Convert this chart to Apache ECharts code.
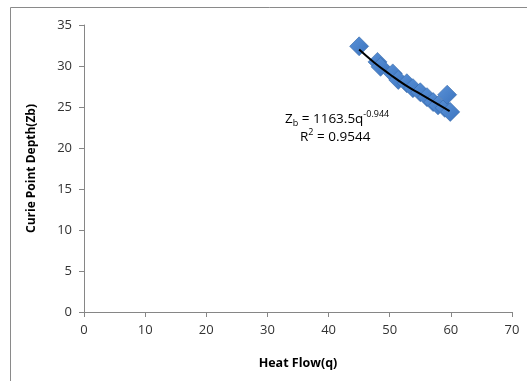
<!DOCTYPE html>
<html>
<head>
<meta charset="utf-8">
<script src="https://cdn.jsdelivr.net/npm/echarts@6/dist/echarts.min.js"></script>
<style>
    html, body { margin: 0; padding: 0; background: #fff; }
    #chart { width: 527px; height: 381px; }
</style>
</head>
<body>
<div id="chart"></div>
<script>
// heat flow (q) vs curie point depth (Zb)
const heatFlow = [45, 48, 48.5, 50.5, 51.4, 52.8, 53.8, 55, 56.1, 57.1, 57.9, 59, 59.4, 59.9];
const curieDepth = [32.4, 30.5, 29.9, 29.1, 28.3, 27.9, 27.3, 26.8, 26.2, 25.6, 25.2, 24.9, 26.5, 24.4];
// power trendline points as drawn
const trendQ = [45, 47.5, 50, 52.5, 55, 57.5, 59.8];
const trendZb = [32.0, 30.4, 29.0, 27.7, 26.6, 25.5, 24.5];
const xTicks = [0, 10, 20, 30, 40, 50, 60, 70];
const yTicks = [0, 5, 10, 15, 20, 25, 30, 35];

const chart = echarts.init(document.getElementById("chart"));
const font = "'Open Sans', 'DejaVu Sans', sans-serif";
const axisGray = "#868686";

const option = {
    backgroundColor: "#fff",
    animation: false,
    grid: { left: 84, right: 15, top: 25, bottom: 69, containLabel: false },
    xAxis: {
        type: "value",
        min: xTicks[0],
        max: xTicks[xTicks.length - 1],
        interval: 10,
        name: "Heat Flow(q)",
        nameLocation: "middle",
        nameGap: 45,
        nameTextStyle: { fontFamily: font, fontWeight: "bold", fontSize: 12.5, color: "#000" },
        axisLine: { lineStyle: { color: axisGray, width: 1 } },
        axisTick: { show: true, inside: false, length: 5, lineStyle: { color: axisGray } },
        axisLabel: { fontFamily: font, fontSize: 13, color: "#333", margin: 12 },
        splitLine: { show: false },
    },
    yAxis: {
        type: "value",
        min: yTicks[0],
        max: yTicks[yTicks.length - 1],
        interval: 5,
        name: "Curie Point Depth(Zb)",
        nameLocation: "middle",
        nameGap: 46,
        nameRotate: 90,
        nameTextStyle: { fontFamily: font, fontWeight: "bold", fontSize: 12, color: "#000" },
        axisLine: { show: true, lineStyle: { color: axisGray, width: 1 } },
        axisTick: { show: true, inside: false, length: 5, lineStyle: { color: axisGray } },
        axisLabel: { fontFamily: font, fontSize: 13, color: "#333", margin: 12 },
        splitLine: { show: false },
    },
    graphic: [
        {
            type: "rect",
            shape: { x: 10.5, y: 7.5, width: 600, height: 500 },
            style: { fill: "none", stroke: "#8a8a8a", lineWidth: 1 },
            silent: true,
            z: -1,
        },
        {
            type: "text",
            left: 285,
            top: 110,
            style: {
                text: "{a|Z}{sub|b}{a| = 1163.5q}{sup|-0.944}",
                rich: {
                    a: { fontFamily: font, fontSize: 13.5, color: "#000", lineHeight: 18 },
                    sub: { fontFamily: font, fontSize: 9, color: "#000", verticalAlign: "bottom", lineHeight: 18, padding: [6, 0, 0, 0] },
                    sup: { fontFamily: font, fontSize: 9, color: "#000", verticalAlign: "top", lineHeight: 18, padding: [0, 0, 8, 0] },
                },
            },
        },
        {
            type: "text",
            left: 300,
            top: 128,
            style: {
                text: "R{sup|2}{a| = 0.9544}",
                fontFamily: font,
                fontSize: 13.5,
                fill: "#000",
                rich: {
                    a: { fontFamily: font, fontSize: 13.5, color: "#000", lineHeight: 18 },
                    sup: { fontFamily: font, fontSize: 9, color: "#000", verticalAlign: "top", lineHeight: 18, padding: [0, 0, 6, 0] },
                },
            },
        },
    ],
    series: [
        {
            name: "Zb",
            type: "scatter",
            symbol: "diamond",
            symbolSize: [19, 19],
            data: heatFlow.map((q, i) => [q, curieDepth[i]]),
            itemStyle: {
                color: new echarts.graphic.LinearGradient(0, 0, 1, 1, [
                    { offset: 0, color: "#5a92d8" },
                    { offset: 1, color: "#3a72bd" },
                ]),
                borderColor: "#3568a8",
                borderWidth: 0.6,
                opacity: 1,
            },
            z: 2,
        },
        {
            name: "trend",
            type: "line",
            smooth: true,
            showSymbol: false,
            data: trendQ.map((q, i) => [q, trendZb[i]]),
            lineStyle: { color: "#000", width: 2 },
            z: 3,
        },
    ],
};
chart.setOption(option);
</script>
</body>
</html>
